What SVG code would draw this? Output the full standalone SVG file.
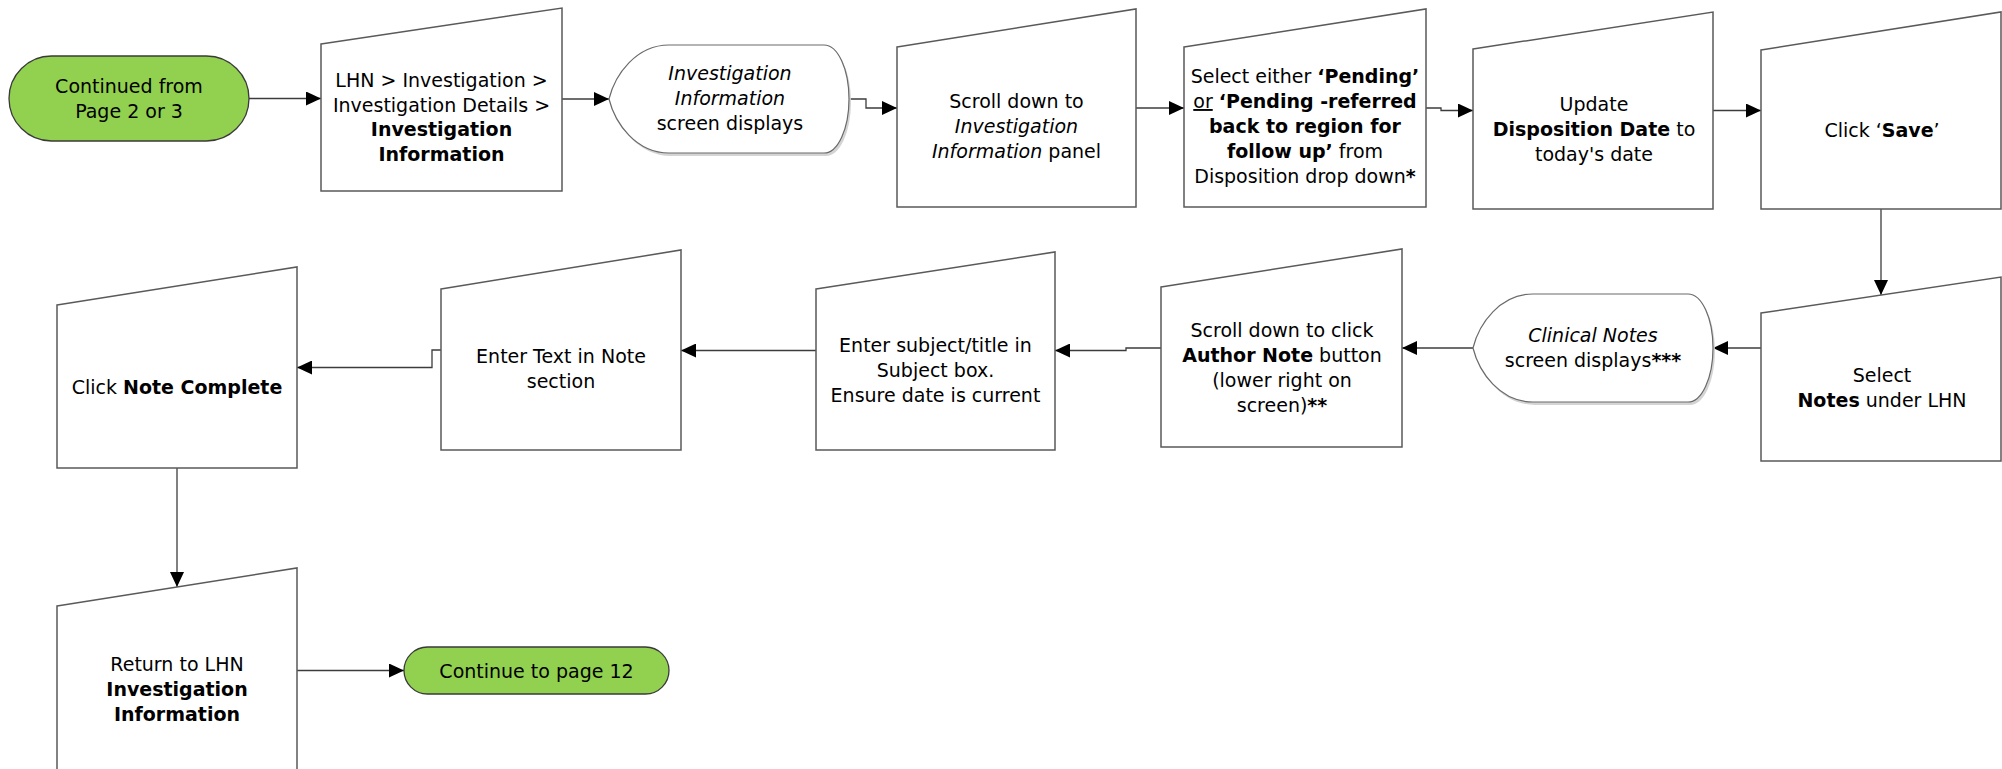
<svg xmlns="http://www.w3.org/2000/svg" width="2002" height="769" viewBox="0 0 2002 769">
  <style>
    text { font-family: "DejaVu Sans", "Liberation Sans", sans-serif; font-size: 19px; fill: #000; text-anchor: middle; }
    .b { font-weight: bold; }
    .i { font-style: italic; }
    .u { text-decoration: underline; }
    .box { fill: #fff; stroke: #5a5a5a; stroke-width: 1.5; }
    .term { fill: #92d050; stroke: #3a3a3a; stroke-width: 1.3; }
    .disp { fill: #fff; stroke: #6a6a6a; stroke-width: 1.2; }
    .shadow { fill: #d4d4d4; }
    .conn { fill: none; stroke: #3c3c3c; stroke-width: 1.3; marker-end: url(#arrow); }
  </style>
  <defs>
    <marker id="arrow" markerUnits="userSpaceOnUse" viewBox="0 0 15 14" markerWidth="15" markerHeight="14" refX="15" refY="7" orient="auto">
      <path d="M0,0 L15,7 L0,14 z" fill="#000"/>
    </marker>
  </defs>

  <rect x="0" y="0" width="2002" height="769" fill="#fff"/>

  <!-- connectors -->
  <g id="connectors">
    <path class="conn" d="M249,98.5 H321"/>
    <path class="conn" d="M562,99 H609"/>
    <path class="conn" d="M849,99 H866 V108 H897"/>
    <path class="conn" d="M1136,108 H1184"/>
    <path class="conn" d="M1426,108 H1441 V110.5 H1473"/>
    <path class="conn" d="M1713,110.5 H1761"/>
    <path class="conn" d="M1881,209 V295"/>
    <path class="conn" d="M1761,348 H1713"/>
    <path class="conn" d="M1473,348 H1402"/>
    <path class="conn" d="M1161,348 H1126 V350.5 H1055"/>
    <path class="conn" d="M816,350.5 H681"/>
    <path class="conn" d="M441,350 H432 V367.5 H297"/>
    <path class="conn" d="M177,468 V587"/>
    <path class="conn" d="M297,670.5 H404"/>
  </g>

  <!-- start terminator -->
  <g id="start">
    <rect class="term" x="9" y="56" width="240" height="85" rx="42.5"/>
    <text x="129" y="93">Continued from</text>
    <text x="129" y="118">Page 2 or 3</text>
  </g>

  <g id="open-investigation">
    <polygon class="box" points="321,44 562,8 562,191 321,191"/>
    <text x="441.5" y="87">LHN &gt; Investigation &gt;</text>
    <text x="441.5" y="111.5">Investigation Details &gt;</text>
    <text x="441.5" y="136" class="b">Investigation</text>
    <text x="441.5" y="160.5" class="b">Information</text>
  </g>

  <g id="investigation-screen">
    <path class="shadow" d="M611,102 C617,77.7 638,48 671,48 L826,48 A25 54 0 0 1 826 156 L671,156 C638,156 617,126.3 611,102 Z"/>
    <path class="disp" d="M609,99 C615,74.7 636,45 669,45 L824,45 A25 54 0 0 1 824 153 L669,153 C636,153 615,123.3 609,99 Z"/>
    <text x="730" y="80" class="i">Investigation</text>
    <text x="730" y="105" class="i">Information</text>
    <text x="730" y="130">screen displays</text>
  </g>

  <g id="scroll-panel">
    <polygon class="box" points="897,47 1136,9 1136,207 897,207"/>
    <text x="1016.5" y="108">Scroll down to</text>
    <text x="1016.5" y="133" class="i">Investigation</text>
    <text x="1016.5" y="158"><tspan class="i">Information</tspan> panel</text>
  </g>

  <g id="select-disposition">
    <polygon class="box" points="1184,47 1426,9 1426,207 1184,207"/>
    <text x="1305" y="83">Select either <tspan class="b">‘Pending’</tspan></text>
    <text x="1305" y="108"><tspan class="u">or</tspan> <tspan class="b">‘Pending -referred</tspan></text>
    <text x="1305" y="133" class="b">back to region for</text>
    <text x="1305" y="158"><tspan class="b">follow up’</tspan> from</text>
    <text x="1305" y="183">Disposition drop down<tspan class="b">*</tspan></text>
  </g>

  <g id="update-date">
    <polygon class="box" points="1473,49 1713,12 1713,209 1473,209"/>
    <text x="1594" y="111">Update</text>
    <text x="1594" y="136"><tspan class="b">Disposition Date</tspan> to</text>
    <text x="1594" y="161">today's date</text>
  </g>

  <g id="click-save">
    <polygon class="box" points="1761,50 2001,12 2001,209 1761,209"/>
    <text x="1882" y="137">Click ‘<tspan class="b">Save</tspan>’</text>
  </g>

  <g id="select-notes">
    <polygon class="box" points="1761,313 2001,277 2001,461 1761,461"/>
    <text x="1882" y="381.5">Select</text>
    <text x="1882" y="406.5"><tspan class="b">Notes</tspan> under LHN</text>
  </g>

  <g id="clinical-notes-screen">
    <path class="shadow" d="M1475,351 C1481,326.7 1502,297 1535,297 L1690,297 A25 54 0 0 1 1690 405 L1535,405 C1502,405 1481,375.3 1475,351 Z"/>
    <path class="disp" d="M1473,348 C1479,323.7 1500,294 1533,294 L1688,294 A25 54 0 0 1 1688 402 L1533,402 C1500,402 1479,372.3 1473,348 Z"/>
    <text x="1593" y="342" class="i">Clinical Notes</text>
    <text x="1593" y="367">screen displays<tspan class="b">***</tspan></text>
  </g>

  <g id="author-note">
    <polygon class="box" points="1161,287 1402,249 1402,447 1161,447"/>
    <text x="1282" y="336.5">Scroll down to click</text>
    <text x="1282" y="361.5"><tspan class="b">Author Note</tspan> button</text>
    <text x="1282" y="386.5">(lower right on</text>
    <text x="1282" y="411.5">screen)<tspan class="b">**</tspan></text>
  </g>

  <g id="enter-subject">
    <polygon class="box" points="816,289 1055,252 1055,450 816,450"/>
    <text x="935.5" y="351.5">Enter subject/title in</text>
    <text x="935.5" y="376.5">Subject box.</text>
    <text x="935.5" y="401.5">Ensure date is current</text>
  </g>

  <g id="enter-text">
    <polygon class="box" points="441,289 681,250 681,450 441,450"/>
    <text x="561" y="363">Enter Text in Note</text>
    <text x="561" y="388">section</text>
  </g>

  <g id="note-complete">
    <polygon class="box" points="57,305 297,267 297,468 57,468"/>
    <text x="177" y="393.5">Click <tspan class="b">Note Complete</tspan></text>
  </g>

  <g id="return-lhn">
    <polygon class="box" points="57,606 297,568 297,776 57,776"/>
    <text x="177" y="671">Return to LHN</text>
    <text x="177" y="696" class="b">Investigation</text>
    <text x="177" y="721" class="b">Information</text>
  </g>

  <!-- end terminator -->
  <g id="end">
    <rect class="term" x="404" y="647" width="265" height="47" rx="23.5"/>
    <text x="536.5" y="677.5">Continue to page 12</text>
  </g>
</svg>
